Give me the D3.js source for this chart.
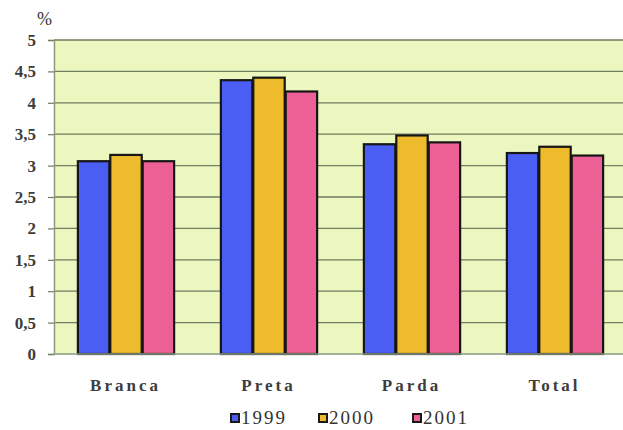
<!DOCTYPE html>
<html>
<head>
<meta charset="utf-8">
<script src="https://cdn.jsdelivr.net/npm/d3@7"></script>
<style>
  html, body { margin: 0; padding: 0; background: #ffffff; }
  svg { display: block; }
</style>
</head>
<body>
<svg id="chart" width="623" height="430"></svg>
<script>
// Categories, series and values
const categories = ["Branca", "Preta", "Parda", "Total"];
const years = ["1999", "2000", "2001"];
const v1999 = [3.07, 4.36, 3.34, 3.20];
const v2000 = [3.17, 4.40, 3.48, 3.30];
const v2001 = [3.07, 4.18, 3.37, 3.16];
const yTicks = [0, 0.5, 1, 1.5, 2, 2.5, 3, 3.5, 4, 4.5, 5];
const yTickLabels = ["0", "0,5", "1", "1,5", "2", "2,5", "3", "3,5", "4", "4,5", "5"];
const colors = ["#4b5ef4", "#eebb2c", "#ec6096"];

const FONT = "'Liberation Serif', 'Times New Roman', serif";
const series = [v1999, v2000, v2001];
const svg = d3.select("#chart");

const plot = { left: 54, right: 626, top: 40, bottom: 354 };

const x = d3.scaleBand().domain(categories).range([plot.left, plot.right])
  .paddingInner(0.32).paddingOuter(0.16);
const xs = d3.scaleBand().domain(years).range([0, x.bandwidth()]).padding(0);
const y = d3.scaleLinear().domain([0, 5]).range([plot.bottom, plot.top]);

// plot background
svg.append("rect")
  .attr("x", plot.left).attr("y", plot.top)
  .attr("width", plot.right - plot.left).attr("height", plot.bottom - plot.top)
  .attr("fill", "#ebf7bf");

// gridlines
svg.append("g").selectAll("line").data(yTicks.filter(d => d > 0)).join("line")
  .attr("x1", plot.left).attr("x2", plot.right)
  .attr("y1", d => y(d)).attr("y2", d => y(d))
  .attr("stroke", "#6f7d62").attr("stroke-width", 1.3);

// y axis
const yAxis = d3.axisLeft(y).tickValues(yTicks)
  .tickFormat((d, i) => yTickLabels[i]).tickSize(6).tickPadding(12);
const gy = svg.append("g").attr("transform", `translate(${plot.left},0)`).call(yAxis);
gy.select(".domain").attr("stroke", "#8a9a80").attr("stroke-width", 1.5);
gy.selectAll(".tick line").attr("stroke", "#6f7d62").attr("stroke-width", 1.2);
gy.selectAll(".tick text")
  .attr("font-size", 17).attr("font-weight", "bold").attr("fill", "#3d3d3d")
  .style("font-family", FONT);

// percent sign
svg.append("text").attr("x", 37).attr("y", 25)
  .attr("font-size", 18).attr("fill", "#333").style("font-family", FONT).text("%");

// bars
const groups = svg.append("g").selectAll("g").data(categories).join("g")
  .attr("transform", c => `translate(${x(c)},0)`);
groups.selectAll("rect")
  .data((c, ci) => years.map((yr, si) => ({ yr, v: series[si][ci], si })))
  .join("rect")
  .attr("x", d => xs(d.yr) + 1)
  .attr("width", xs.bandwidth() - 1)
  .attr("y", d => y(d.v))
  .attr("height", d => y(0) - y(d.v))
  .attr("fill", d => colors[d.si])
  .attr("stroke", "#161616").attr("stroke-width", 2.2);

// x axis baseline
svg.append("line")
  .attr("x1", plot.left).attr("x2", plot.right)
  .attr("y1", plot.bottom).attr("y2", plot.bottom)
  .attr("stroke", "#8a9a80").attr("stroke-width", 1.5);

// category labels
const xAxis = d3.axisBottom(x).tickSize(0).tickPadding(25);
const gx = svg.append("g").attr("transform", `translate(0,${plot.bottom})`).call(xAxis);
gx.select(".domain").remove();
gx.selectAll(".tick text")
  .attr("font-size", 17).attr("font-weight", "bold").attr("fill", "#3d3d3d")
  .attr("letter-spacing", "3px")
  .style("font-family", FONT);

// legend
const legendX = [231, 319, 413];
const lg = svg.append("g").selectAll("g").data(years).join("g")
  .attr("transform", (d, i) => `translate(${legendX[i]},414)`);
lg.append("rect").attr("width", 8).attr("height", 8)
  .attr("fill", (d, i) => colors[i]).attr("stroke", "#1a1a1a").attr("stroke-width", 2);
lg.append("text").attr("x", 10).attr("y", 10)
  .attr("font-size", 19).attr("fill", "#333").attr("letter-spacing", "2px")
  .style("font-family", FONT)
  .text(d => d);
</script>
</body>
</html>
